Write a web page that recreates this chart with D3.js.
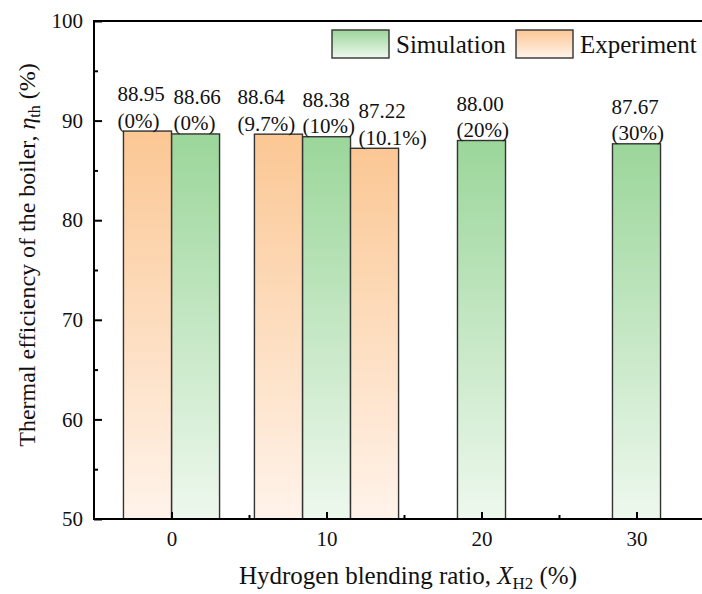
<!DOCTYPE html>
<html>
<head>
<meta charset="utf-8">
<script src="https://cdn.jsdelivr.net/npm/d3@7"></script>
<style>
  body { margin: 0; background: #fff; }
  text { font-family: "Liberation Serif", "Times New Roman", serif; fill: #111; }
</style>
</head>
<body>
<div id="chart"></div>
<script>
// simulation bars, one per blending ratio
const simRatio = [0, 10, 20, 30]
const simValues = [88.66, 88.38, 88.00, 87.67]
const simTags = ['(0%)', '(10%)', '(20%)', '(30%)']

// experiment bars (ratios 0, 9.7 and 10.1 % sit around the 0 and 10 groups)
const expGroup = [0, 10, 10]
const expValues = [88.95, 88.64, 87.22]
const expTags = ['(0%)', '(9.7%)', '(10.1%)']

const xTicks = [0, 10, 20, 30]
const yTicks = [50, 60, 70, 80, 90, 100]

const W = 702, H = 594
const BAR = 3.1  // bar width in x units

const svg = d3.select('#chart').append('svg')
  .attr('width', W).attr('height', H)

const x = d3.scaleLinear().domain([-5, 35]).range([94, 714])
const y = d3.scaleLinear().domain([50, 100]).range([519, 21])

// gradients
const defs = svg.append('defs')
function grad(id, top, bottom) {
  const g = defs.append('linearGradient').attr('id', id)
    .attr('x1', 0).attr('y1', 0).attr('x2', 0).attr('y2', 1)
  g.append('stop').attr('offset', '0%').attr('stop-color', top)
  g.append('stop').attr('offset', '100%').attr('stop-color', bottom)
}
grad('gSim', '#9bd69a', '#eef8ee')
grad('gExp', '#fbc794', '#fff3ea')

// bars: slot offset (in bar widths) relative to the group tick
const bars = []
simRatio.forEach((r, i) => bars.push({
  cx: r + (r === 0 ? 0.5 : 0) * BAR, v: simValues[i], tag: simTags[i], fill: 'url(#gSim)'
}))
const expSlot = [-0.5, -1, 1]
expGroup.forEach((r, i) => bars.push({
  cx: r + expSlot[i] * BAR, v: expValues[i], tag: expTags[i], fill: 'url(#gExp)'
}))
// hand nudges of the value labels, as in the original figure (px)
const nudge = { '88.66': 2, '88.38': 0, '88.00': -1, '87.67': -1, '88.95': -6, '88.64': -17, '87.22': 8 }

const g = svg.append('g')
g.selectAll('rect.bar').data(bars).join('rect')
  .attr('class', 'bar')
  .attr('x', d => x(d.cx - BAR / 2))
  .attr('width', d => x(BAR) - x(0))
  .attr('y', d => y(d.v))
  .attr('height', d => y(50) - y(d.v))
  .attr('fill', d => d.fill)
  .attr('stroke', '#333')
  .attr('stroke-width', 1.4)

const lab = g.selectAll('text.val').data(bars).join('text')
  .attr('class', 'val')
  .attr('font-size', 21)
  .attr('x', d => x(d.cx - BAR / 2) + nudge[d.v.toFixed(2)])
  .attr('y', d => y(d.v) - 30)
lab.append('tspan').text(d => d.v.toFixed(2))
lab.append('tspan')
  .attr('x', d => x(d.cx - BAR / 2) + nudge[d.v.toFixed(2)])
  .attr('dy', 26.5)
  .text(d => d.tag)

// axes with inward ticks
const xAxis = d3.axisBottom(x).tickValues(xTicks).tickSize(-7).tickPadding(12)
const xMinor = d3.axisBottom(x).tickValues([5, 15, 25]).tickSize(-4).tickFormat('')
const yAxis = d3.axisLeft(y).tickValues(yTicks).tickSize(-8).tickPadding(11)
const yMinor = d3.axisLeft(y).tickValues([55, 65, 75, 85, 95]).tickSize(-4).tickFormat('')

function style(sel) {
  sel.select('.domain').remove()
  sel.selectAll('line').attr('stroke', '#000').attr('stroke-width', 2)
  sel.selectAll('text').attr('font-size', 21).attr('font-family', '"Liberation Serif", serif').attr('fill', '#111')
}
svg.append('g').attr('transform', `translate(0,${y(50)})`).call(xAxis).call(style)
svg.append('g').attr('transform', `translate(0,${y(50)})`).call(xMinor).call(style)
svg.append('g').attr('transform', `translate(${x(-5)},0)`).call(yAxis).call(style)
svg.append('g').attr('transform', `translate(${x(-5)},0)`).call(yMinor).call(style)

// frame
svg.append('rect')
  .attr('x', x(-5)).attr('y', y(100))
  .attr('width', x(35) - x(-5)).attr('height', y(50) - y(100))
  .attr('fill', 'none').attr('stroke', '#000').attr('stroke-width', 2)

// legend
const legend = [
  { name: 'Simulation', fill: 'url(#gSim)', bx: 332, tx: 396 },
  { name: 'Experiment', fill: 'url(#gExp)', bx: 516, tx: 580 }
]
legend.forEach(l => {
  svg.append('rect').attr('x', l.bx).attr('y', 30).attr('width', 57).attr('height', 28)
    .attr('fill', l.fill).attr('stroke', '#333').attr('stroke-width', 1.4)
  svg.append('text').attr('x', l.tx).attr('y', 53).attr('font-size', 25).text(l.name)
})

// axis titles
const xt = svg.append('text').attr('x', 408).attr('y', 584)
  .attr('text-anchor', 'middle').attr('font-size', 25)
xt.append('tspan').text('Hydrogen blending ratio, ')
xt.append('tspan').attr('font-style', 'italic').text('X')
xt.append('tspan').attr('font-size', 17).attr('dy', 5).text('H2')
xt.append('tspan').attr('dy', -5).text(' (%)')

const yt = svg.append('text')
  .attr('transform', 'translate(35,255) rotate(-90)')
  .attr('text-anchor', 'middle').attr('font-size', 24)
yt.append('tspan').text('Thermal efficiency of the boiler, ')
yt.append('tspan').attr('font-style', 'italic').text('η')
yt.append('tspan').attr('font-size', 16).attr('dy', 5).text('th')
yt.append('tspan').attr('dy', -5).text(' (%)')
</script>
</body>
</html>
